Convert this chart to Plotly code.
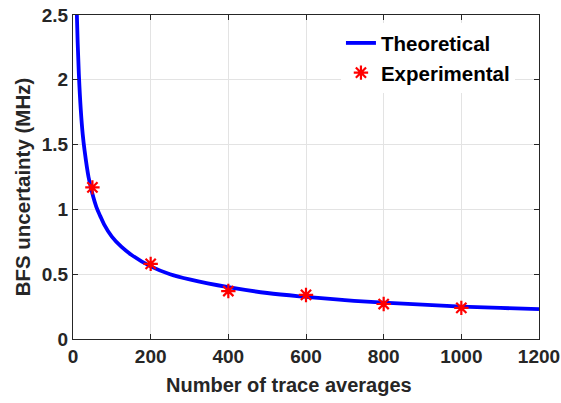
import plotly.graph_objects as go

# Theoretical curve points
theo_n = [10, 12, 15, 20, 25, 30, 40, 50, 60, 70, 80, 100, 125, 150, 200, 250, 300, 400, 500, 600, 700, 800, 900, 1000, 1100, 1200]
theo_u = [2.50, 2.29, 2.05, 1.77, 1.58, 1.45, 1.25, 1.12, 1.02, 0.95, 0.885, 0.79, 0.71, 0.65, 0.56, 0.50, 0.46, 0.40, 0.355, 0.325, 0.30, 0.28, 0.265, 0.25, 0.24, 0.23]

# Experimental points
exp_n = [50, 200, 400, 600, 800, 1000]
exp_u = [1.17, 0.58, 0.37, 0.34, 0.27, 0.24]

x_ticks = [0, 200, 400, 600, 800, 1000, 1200]
y_ticks = [0, 0.5, 1, 1.5, 2, 2.5]
y_tick_text = ["0", "0.5", "1", "1.5", "2", "2.5"]

x_title = "Number of trace averages"
y_title = "BFS uncertainty (MHz)"

fig = go.Figure()
fig.add_trace(go.Scatter(x=theo_n, y=theo_u, mode="lines", name="Theoretical",
                         line=dict(color="#0000ff", width=3.8, shape="spline")))
fig.add_trace(go.Scatter(x=exp_n, y=exp_u, mode="markers", name="Experimental",
                         marker=dict(symbol="asterisk-open", size=12, color="#ff0000",
                                     line=dict(color="#ff0000", width=2.2))))

font_family = "Liberation Sans, Arial, sans-serif"
fig.update_layout(
    width=561, height=403,
    margin=dict(l=73, r=22, t=15, b=64),
    paper_bgcolor="white", plot_bgcolor="white",
    font=dict(family=font_family, color="#262626"),
    showlegend=True,
    legend=dict(x=0.575, y=0.975, xanchor="left", yanchor="top",
                bgcolor="white", borderwidth=0,
                font=dict(size=20.5, family=font_family, color="#000000", weight="bold"),
                itemwidth=30, tracegroupgap=0),
    xaxis=dict(range=[0, 1200], tickvals=x_ticks, showgrid=True, gridcolor="#e3e3e3",
               gridwidth=1, showline=True, linecolor="#262626", linewidth=1, mirror="ticks",
               ticks="inside", ticklen=5, tickcolor="#262626", zeroline=False,
               automargin=False, tickfont=dict(size=19, weight="bold")),
    yaxis=dict(range=[0, 2.5], tickvals=y_ticks, ticktext=y_tick_text, showgrid=True,
               gridcolor="#e3e3e3", gridwidth=1, showline=True, linecolor="#262626",
               linewidth=1, mirror="ticks", ticks="inside", ticklen=5, tickcolor="#262626",
               zeroline=False, automargin=False, tickfont=dict(size=19, weight="bold")),
    annotations=[
        dict(text=x_title, xref="paper", yref="paper", x=0.4635, y=0, yshift=-46,
             xanchor="center", yanchor="middle", showarrow=False,
             font=dict(size=20, weight="bold", color="#262626")),
        dict(text=y_title, xref="paper", yref="paper", x=0, y=0.468, xshift=-51,
             xanchor="center", yanchor="middle", textangle=-90, showarrow=False,
             font=dict(size=20.5, weight="bold", color="#262626")),
    ],
)

fig.write_html("out.html", config={"displayModeBar": False},
               post_script="document.body.style.margin='0';document.body.style.overflow='hidden';")
